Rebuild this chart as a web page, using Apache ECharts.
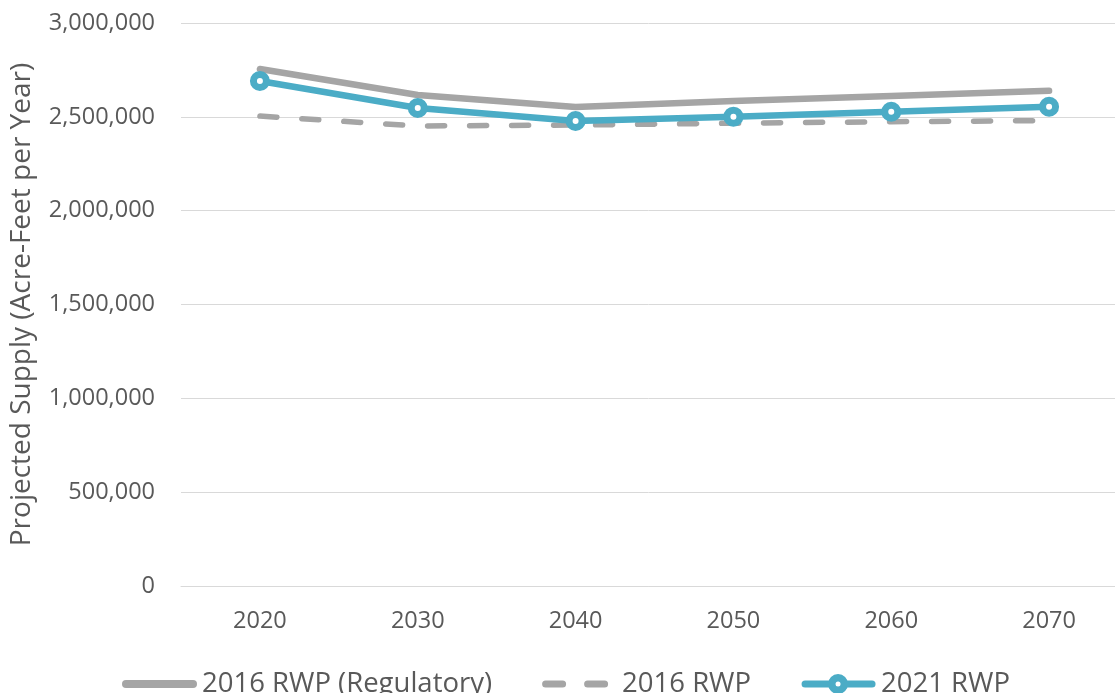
<!DOCTYPE html>
<html>
<head>
<meta charset="utf-8">
<script src="https://cdn.jsdelivr.net/npm/echarts@6/dist/echarts.min.js"></script>
<style>html,body{margin:0;padding:0;background:#fff;}#c{width:1115px;height:693px;}</style>
</head>
<body>
<div id="c"></div>
<script>
const categories = ['2020', '2030', '2040', '2050', '2060', '2070'];
const rwp2016Regulatory = [2755000, 2616000, 2552000, 2584000, 2611000, 2639000];
const rwp2016 = [2504000, 2451000, 2456000, 2466000, 2474000, 2480000];
const rwp2021 = [2691000, 2547000, 2478000, 2501000, 2527000, 2554000];
const seriesNames = ['2016 RWP (Regulatory)', '2016 RWP', '2021 RWP'];
const yAxisTitle = 'Projected Supply (Acre-Feet per Year)';

const textColor = '#595959';
const grey = '#A5A5A5';
const blue = '#4BACC6';
const font = 'Open Sans';

// legend icon shapes (box 75 x 22)
const iconSolid = 'path://M0,0 M75,22 M4,7 L71,7 A4,4 0 0 1 71,15 L4,15 A4,4 0 0 1 4,7 Z';
const iconDashed = 'path://M0,0 M75,22 M3.5,7.5 L20.5,7.5 A3.5,3.5 0 0 1 20.5,14.5 L3.5,14.5 A3.5,3.5 0 0 1 3.5,7.5 Z ' +
  'M45.5,7.5 L62.5,7.5 A3.5,3.5 0 0 1 62.5,14.5 L45.5,14.5 A3.5,3.5 0 0 1 45.5,7.5 Z';
const iconMarker = 'path://M0,0 M75,22 M4,7.5 L28,7.5 L28,14.5 L4,14.5 A3.5,3.5 0 0 1 4,7.5 Z ' +
  'M46,7.5 L71,7.5 A3.5,3.5 0 0 1 71,14.5 L46,14.5 Z ' +
  'M27,11 A10,10 0 1 1 47,11 A10,10 0 1 1 27,11 Z ' +
  'M34.5,11 A2.5,2.5 0 1 0 39.5,11 A2.5,2.5 0 1 0 34.5,11 Z';

const chart = echarts.init(document.getElementById('c'), null, {renderer: 'canvas'});
chart.setOption({
  animation: false,
  grid: {left: 181, top: 23, width: 947, height: 563, containLabel: false, outerBoundsMode: 'none'},
  legend: {
    left: 117, top: 665,
    itemWidth: 75, itemHeight: 22, itemGap: 50,
    textStyle: {color: textColor, fontFamily: font, fontSize: 27.5, padding: [0, 0, 0, 0]},
    data: [
      {name: seriesNames[0], icon: iconSolid, itemStyle: {color: grey}},
      {name: seriesNames[1], icon: iconDashed, itemStyle: {color: grey}},
      {name: seriesNames[2], icon: iconMarker, itemStyle: {color: blue, borderWidth: 0}}
    ]
  },
  xAxis: {
    type: 'category', data: categories, boundaryGap: true,
    axisLine: {lineStyle: {color: '#D9D9D9', width: 1}},
    axisTick: {show: false},
    axisLabel: {color: textColor, fontFamily: font, fontSize: 23.5, margin: 23}
  },
  yAxis: {
    type: 'value', min: 0, max: 3000000, interval: 500000,
    name: yAxisTitle, nameLocation: 'middle', nameRotate: 90, nameGap: 145,
    nameTextStyle: {color: textColor, fontFamily: font, fontSize: 28},
    axisLine: {show: false}, axisTick: {show: false},
    splitLine: {lineStyle: {color: '#D9D9D9', width: 1}},
    axisLabel: {
      color: textColor, fontFamily: font, fontSize: 23.5, margin: 26,
      formatter: v => v.toLocaleString('en-US')
    }
  },
  series: [
    {
      name: seriesNames[0], type: 'line', data: rwp2016Regulatory,
      symbol: 'none', lineStyle: {color: grey, width: 6.5, cap: 'round', join: 'round'},
      itemStyle: {color: grey}, z: 2
    },
    {
      name: seriesNames[1], type: 'line', data: rwp2016,
      symbol: 'none', lineStyle: {color: grey, width: 5.5, type: [17, 25], cap: 'round'},
      itemStyle: {color: grey}, z: 3
    },
    {
      name: seriesNames[2], type: 'line', data: rwp2021,
      symbol: 'circle', symbolSize: 13,
      lineStyle: {color: blue, width: 6.5, join: 'round'},
      itemStyle: {color: '#FFFFFF', borderColor: blue, borderWidth: 7}, z: 4
    }
  ]
});
</script>
</body>
</html>
